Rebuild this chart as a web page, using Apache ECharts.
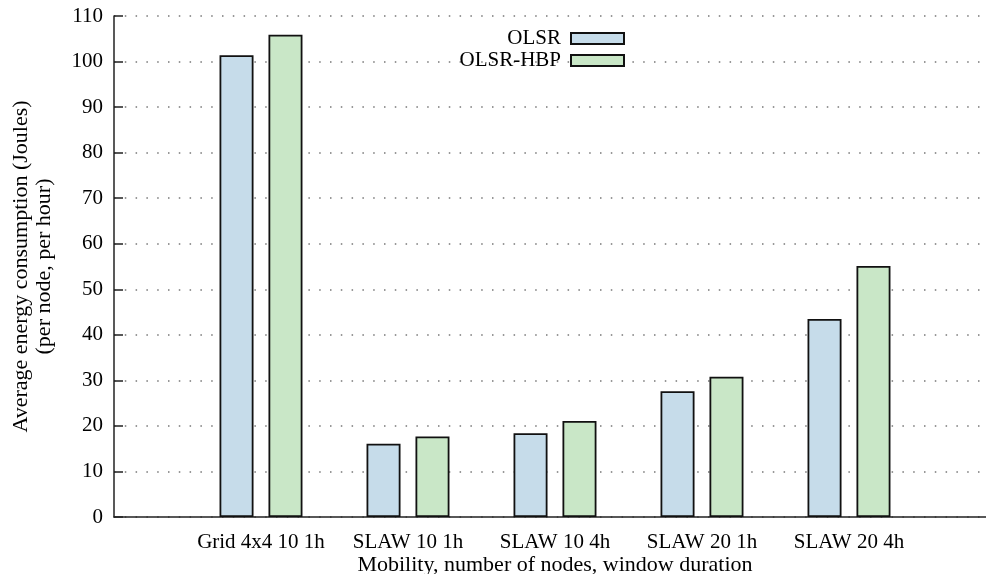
<!DOCTYPE html>
<html>
<head>
<meta charset="utf-8">
<script src="https://cdn.jsdelivr.net/npm/echarts@6/dist/echarts.min.js"></script>
<style>html,body{margin:0;padding:0;background:#fff}#c{width:986px;height:574px}</style>
</head>
<body>
<div id="c"></div>
<script>
const categories = ['Grid 4x4 10 1h', 'SLAW 10 1h', 'SLAW 10 4h', 'SLAW 20 1h', 'SLAW 20 4h'];
const olsr = [101.4, 16.1, 18.4, 27.6, 43.5];
const olsrHbp = [105.9, 17.7, 21.1, 30.8, 55.1];
const yTicks = [0, 10, 20, 30, 40, 50, 60, 70, 80, 90, 100, 110];

const font = 'Liberation Serif';
const fs = 21;
const chart = echarts.init(document.getElementById('c'));
chart.setOption({
  animation: false,
  textStyle: { fontFamily: font, color: '#000' },
  grid: { left: 114, top: 16, width: 882, height: 501, containLabel: false, outerBoundsMode: 'none' },
  legend: {
    orient: 'vertical', align: 'right', right: 356, top: 23,
    itemWidth: 53, itemHeight: 11, itemGap: 1, icon: 'rect',
    textStyle: { fontFamily: font, fontSize: fs, color: '#000', lineHeight: 21, padding: [0, 5, 0, 0] },
    data: ['OLSR', 'OLSR-HBP']
  },
  xAxis: {
    type: 'value', min: -1, max: 5, interval: 1,
    name: 'Mobility, number of nodes, window duration',
    nameLocation: 'middle', nameGap: 37, nameMoveOverlap: false,
    nameTextStyle: { fontFamily: font, fontSize: 22, color: '#000' },
    axisLine: { show: true, lineStyle: { color: '#222', width: 1.5 } },
    axisTick: { show: false },
    splitLine: { show: false },
    axisLabel: {
      fontFamily: font, fontSize: fs, color: '#000', margin: 15,
      formatter: v => (v >= 0 && v < categories.length) ? categories[v] : ''
    }
  },
  yAxis: {
    type: 'value', min: yTicks[0], max: yTicks[yTicks.length - 1], interval: 10,
    name: 'Average energy consumption (Joules)\n(per node, per hour)',
    nameLocation: 'middle', nameGap: 58, nameRotate: 90,
    nameTextStyle: { fontFamily: font, fontSize: 22, color: '#000', lineHeight: 23 },
    axisLine: { show: true, onZero: false, lineStyle: { color: '#222', width: 1.5 } },
    axisTick: { show: true, inside: true, length: 9, lineStyle: { color: '#222', width: 1.5 } },
    splitLine: { show: true, lineStyle: { color: '#777', width: 1.5, type: [1.5, 9.3] } },
    axisLabel: { fontFamily: font, fontSize: fs, color: '#000', margin: 11 }
  },
  series: [
    {
      name: 'OLSR', type: 'bar', barWidth: 34, barGap: '44%',
      itemStyle: { color: '#c6dcea', borderColor: '#111', borderWidth: 1.8 },
      data: olsr.map((v, i) => [i, v])
    },
    {
      name: 'OLSR-HBP', type: 'bar', barWidth: 34, barGap: '44%',
      itemStyle: { color: '#c9e7c7', borderColor: '#111', borderWidth: 1.8 },
      data: olsrHbp.map((v, i) => [i, v])
    }
  ]
});
</script>
</body>
</html>
